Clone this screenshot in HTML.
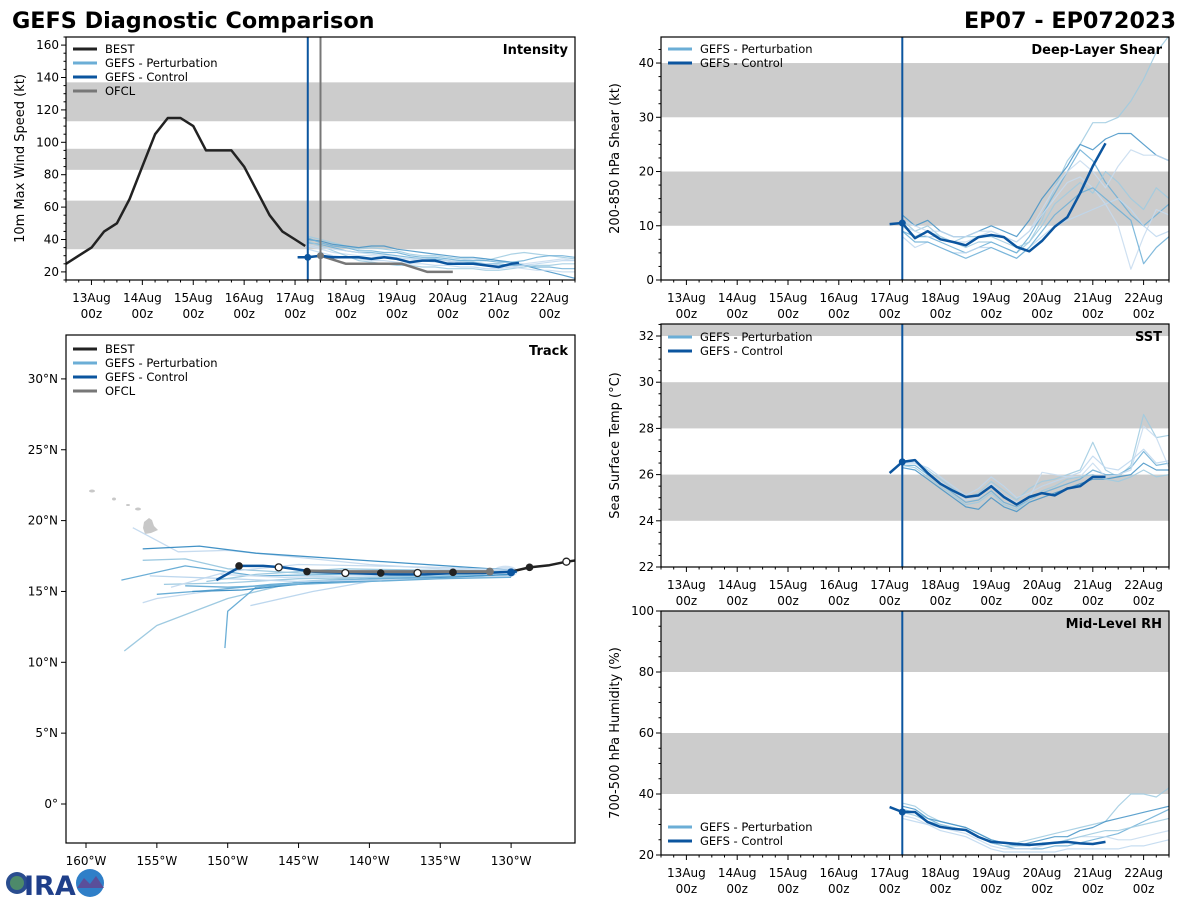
<!DOCTYPE html>
<html><head><meta charset="utf-8"><title>GEFS Diagnostic Comparison</title>
<style>
html,body{margin:0;padding:0;background:#fff;}
svg text{font-family:"DejaVu Sans","Liberation Sans",sans-serif;}
</style></head>
<body>
<svg id="fig" xmlns="http://www.w3.org/2000/svg" width="1200" height="900" viewBox="0 0 1200 900">
<rect width="1200" height="900" fill="#fff"/>
<text x="12" y="28" font-size="22.3" font-weight="bold" fill="#000">GEFS Diagnostic Comparison</text>
<text x="1176" y="28" font-size="22.3" font-weight="bold" fill="#000" text-anchor="end">EP07 - EP072023</text>
<g>
<circle cx="17" cy="883" r="11" fill="#2a4d8f"/><circle cx="17" cy="883" r="7" fill="#4d8a6a"/>
<text x="24" y="895" font-size="27" font-weight="bold" fill="#1f3f8a" font-family="Liberation Sans">IRA</text>
<circle cx="90" cy="883" r="14" fill="#2f7fc8"/><path d="M77,888 L84,878 L90,884 L96,876 L104,888 Z" fill="#5a4f9a"/>
</g>
<g id="root"></g>
</svg>
<script>
// ---------- DATA ----------
const dateLabels = ["13Aug","14Aug","15Aug","16Aug","17Aug","18Aug","19Aug","20Aug","21Aug","22Aug"];
const bestIntT = [-0.5,-0.25,0,0.25,0.5,0.75,1.0,1.25,1.5,1.75,2.0,2.25,2.5,2.75,3.0,3.25,3.5,3.75,4.0,4.2];
const bestIntV = [25,30,35,45,50,65,85,105,115,115,110,95,95,95,85,70,55,45,40,36];
const ctrlIntT = [4.05,4.25,4.5,4.75,5.0,5.25,5.5,5.75,6.0,6.25,6.5,6.75,7.0,7.25,7.5,7.75,8.0,8.25,8.4];
const ctrlIntV = [29,29,30,29,29,29,28,29,28,26,27,27,25,25,25,24,23,25,25.5];
const ofclIntT = [4.5,5.0,6.1,6.6,7.1];
const ofclIntV = [30,25,25,20,20];
const memT = [4.25,4.5,4.75,5.0,5.25,5.5,5.75,6.0,6.25,6.5,6.75,7.0,7.25,7.5,7.75,8.0,8.25,8.5,8.75,9.0,9.25,9.5];
const intM1 = [42,40,38,36,34,35,34,33,31,30,30,29,28,28,27,29,31,32,31,30,29,28];
const intM2 = [38,37,35,33,32,32,31,30,29,28,28,27,26,26,25,25,24,24,23,23,22,22];
const intM3 = [36,34,32,31,30,30,29,28,28,27,26,26,27,28,28,27,26,25,26,27,28,27];
const intM4 = [40,39,37,36,35,36,36,34,33,32,31,30,29,29,28,27,26,24,22,20,18,16];
const intM5 = [34,32,30,29,28,27,27,26,25,25,24,24,23,23,22,22,23,24,25,26,27,27];
const intM6 = [39,36,33,30,27,26,25,24,24,23,23,22,22,22,21,21,22,23,24,24,25,25];
const intM7 = [41,38,36,35,33,33,32,32,30,29,29,28,27,27,27,26,26,27,29,30,30,29];
const intM8 = [37,35,34,33,32,31,30,29,28,28,27,27,26,25,25,24,23,22,21,21,20,20];

const ctrlT = [4.0,4.25,4.5,4.75,5.0,5.25,5.5,5.75,6.0,6.25,6.5,6.75,7.0,7.25,7.5,7.75,8.0,8.25];
const shearCtrl = [10.3,10.5,7.7,9.0,7.5,7.0,6.4,7.9,8.3,7.9,6.1,5.3,7.2,9.8,11.6,16,21,25.2];
const shM1 = [11,9,10,8,7,6,7,7,6,5,7,11,17,22,25,29,29,30,33,37,42,45];
const shM2 = [9,8,8,7,6,5,6,7,6,5,8,12,16,20,24,22,18,15,12,10,12,14];
const shM3 = [10,9,8,8,7,7,8,9,8,7,9,12,15,18,19,17,14,10,2,8,13,12];
const shM4 = [12,10,11,9,8,8,9,10,9,8,11,15,18,21,25,24,26,27,27,25,23,22];
const shM5 = [8,6,7,6,5,5,6,6,5,4,6,8,10,11,12,13,14,15,13,10,8,9];
const shM6 = [10,8,9,8,7,8,8,8,7,6,7,10,14,16,18,16,20,18,15,13,17,15];
const shM7 = [9,7,7,6,5,4,5,6,5,4,6,9,12,14,16,17,15,13,11,3,6,8];
const shM8 = [11,10,9,9,8,8,9,9,8,7,9,13,17,20,22,20,17,21,24,23,23,22];

const sstCtrl = [26.07,26.55,26.63,26.07,25.6,25.3,25.03,25.1,25.5,25.03,24.7,25.03,25.2,25.1,25.4,25.5,25.9,25.9];
const sstM1 = [26.5,26.6,26.2,25.8,25.4,25.0,25.2,25.7,25.3,24.9,25.4,25.7,25.8,26.0,26.2,27.4,26.2,25.9,26.4,28.6,27.6,27.7];
const sstM2 = [26.4,26.4,26.0,25.6,25.2,24.8,24.9,25.3,24.8,24.6,24.9,25.2,25.4,25.6,25.8,26.2,26.0,26.0,26.3,27.0,26.4,26.5];
const sstM3 = [26.5,26.5,26.1,25.7,25.3,24.9,25.0,25.6,25.1,24.8,25.0,26.1,26.0,25.9,25.9,26.5,25.9,26.0,26.2,28.1,27.6,26.3];
const sstM4 = [26.3,26.2,25.8,25.4,25.0,24.6,24.5,25.0,24.6,24.4,24.8,25.0,25.2,25.4,25.6,25.8,25.8,25.9,26.0,26.5,26.2,26.2];
const sstM5 = [26.6,26.5,26.3,25.9,25.5,25.1,25.4,25.9,25.5,25.0,25.2,25.5,25.7,25.9,26.1,26.8,26.3,26.2,26.6,27.1,26.5,26.6];
const sstM6 = [26.4,26.3,25.9,25.5,25.1,24.7,24.8,25.2,24.7,24.5,24.9,25.3,25.5,25.8,25.9,26.0,25.8,25.7,25.9,26.2,25.9,26.0];

const rhCtrl = [35.7,34.1,34.1,30.8,29.2,28.6,28.2,25.9,24.3,24.0,23.6,23.3,23.6,24.0,24.3,23.8,23.6,24.3];
const rhM1 = [37,36,33,31,30,29,27,25,24,24,25,26,27,28,29,30,31,36,40,40,39,42];
const rhM2 = [35,34,32,30,29,28,26,24,23,22,22,22,23,23,24,25,26,27,29,31,33,35];
const rhM3 = [33,32,30,29,28,27,25,23,22,22,22,23,24,25,26,26,26,25,25,26,27,28];
const rhM4 = [36,35,32,31,30,29,27,25,24,23,24,25,26,26,28,29,31,32,33,34,35,36];
const rhM5 = [32,31,30,28,27,26,24,22,21,21,21,21,21,22,22,22,22,22,23,23,24,25];
const rhM6 = [34,33,31,30,29,28,26,24,23,23,23,24,24,25,26,27,28,28,29,30,31,32];

const bestLon = [125.4,126.1,127.3,128.7,130.0];
const bestLat = [17.2,17.1,16.85,16.7,16.4];
const ctrlLon = [129.6,132,134,136.1,138.5,141.4,143,144,146.1,147.5,149,150.8];
const ctrlLat = [16.4,16.3,16.3,16.2,16.2,16.3,16.35,16.4,16.7,16.8,16.8,15.8];
const ofclLon = [131.5,134.1,136.6,139.2,141.7,144.4];
const ofclLat = [16.4,16.4,16.4,16.4,16.4,16.45];
const trkLons = [
 [130,135,140,145,150,155,157.3],[130,135,140,145,148,150,150.2],[130,135,140,145,150,153.5,156.7],
 [130,136,142,148,152,156],[130,135,140,144,148.4],[130,135,140,145,150,154.5],
 [130,136,142,148,153,157.5],[130,135,140,145,150,155,156],[130,135,140,145,150,153,156],
 [130,136,142,147,151,155],[130,135,140,145,150,154],[130,134,139,144,149,152.5],
 [130,135,140,145,150,155.5],[130,136,142,148,151.5],[130,135,140,145,150,153],[130,136,141,146,150.5]];
const trkLats = [
 [16.3,16.2,16.0,15.7,14.5,12.6,10.8],[16.3,16.1,15.9,15.6,15.3,13.6,11.0],[16.4,16.6,16.9,17.4,17.9,17.8,19.5],
 [16.5,16.9,17.3,17.7,18.2,18.0],[16.3,16.0,15.7,15.0,14.0],[16.2,16.1,16.0,15.9,15.6,15.5],
 [16.3,16.3,16.2,16.1,16.8,15.8],[16.3,16.0,15.8,15.6,15.2,14.5,14.2],[16.4,16.3,16.2,16.3,16.6,17.3,17.2],
 [16.2,16.0,15.8,15.5,15.1,14.8],[16.5,16.7,16.8,16.9,16.4,15.3],[16.2,16.0,15.8,15.6,15.1,15.0],
 [16.1,15.9,15.8,15.7,15.9,16.1],[16.4,16.5,16.6,16.2,15.7],[16.0,15.9,15.7,15.5,15.3,15.4],[16.4,16.2,16.1,16.0,16.2]];
const darkMarkLon = [149.2,144.4,139.2,134.1,128.7];
const darkMarkLat = [16.8,16.4,16.3,16.35,16.7];
const openMarkLon = [146.4,141.7,136.6,126.1];
const openMarkLat = [16.7,16.3,16.3,17.1];
const lonTicks = [160,155,150,145,140,135,130];
const latTicks = [0,5,10,15,20,25,30];

// ---------- DRAW ----------
const NS="http://www.w3.org/2000/svg";
const root=document.getElementById('root');
function el(tag,attrs,parent){const e=document.createElementNS(NS,tag);for(const k in attrs)e.setAttribute(k,attrs[k]);(parent||root).appendChild(e);return e;}
function txt(s,attrs,parent){const e=el('text',attrs,parent);e.textContent=s;return e;}
const memColors=['#9ecae1','#6baed6','#c6dbef','#4292c6','#bdd7ee','#9ecae1','#6baed6','#c6dbef'];
const CTRL='#0b559f';

function tsPanel(o){
  const g=el('g',{});
  
  
  const X=d=>o.x0+(d+0.5)/10*(o.x1-o.x0);
  const Y=v=>o.y1-(v-o.ymin)/(o.ymax-o.ymin)*(o.y1-o.y0);
  for(const b of o.bands){const r=el('rect',{x:o.x0,y:Y(Math.min(b[1],o.ymax)),width:o.x1-o.x0,height:Y(b[0])-Y(Math.min(b[1],o.ymax)),fill:'#cccccc'},g);
    }
  const clip='c'+o.name;const cp=el('clipPath',{id:clip},g);el('rect',{x:o.x0,y:o.y0,width:o.x1-o.x0,height:o.y1-o.y0},cp);
  const pg=el('g',{'clip-path':'url(#'+clip+')'},g);
  function line(ts,vs,attrs,name){const p=ts.map((t,i)=>X(t).toFixed(1)+','+Y(vs[i]).toFixed(1)).join(' ');const e=el('polyline',Object.assign({points:p,fill:'none','stroke-linejoin':'round'},attrs),pg);
    return e;}
  o.members.forEach((m,i)=>line(memT,m,{stroke:memColors[i%memColors.length],'stroke-width':1.2,opacity:0.85},'perturbation-member-'+(i+1)));
  for(const v of o.vlines){const e=el('line',{x1:X(v[0]),x2:X(v[0]),y1:o.y0,y2:o.y1,stroke:v[1],'stroke-width':2},pg);}
  if(o.best)line(o.best[0],o.best[1],{stroke:'#222','stroke-width':2.5},'best-line');
  if(o.ofcl)line(o.ofcl[0],o.ofcl[1],{stroke:'#777','stroke-width':2.5},'ofcl-line');
  line(o.ctrl[0],o.ctrl[1],{stroke:CTRL,'stroke-width':2.5},'control-line');
  const ci=o.ctrl[0].indexOf(4.25);
  const dot=el('circle',{cx:X(4.25),cy:Y(o.ctrl[1][ci]),r:3.5,fill:CTRL},pg);
  if(o.ofcl){const d2=el('circle',{cx:X(o.ofcl[0][0]),cy:Y(o.ofcl[1][0]),r:3.5,fill:'#777'},pg);}
  el('rect',{x:o.x0,y:o.y0,width:o.x1-o.x0,height:o.y1-o.y0,fill:'none',stroke:'#000','stroke-width':1.2},g);
  for(let h=-2;h<=38;h++){const d=h/4;if(d<-0.5||d>9.5)continue;const xx=X(d);const major=h%4===0;
    el('line',{x1:xx,x2:xx,y1:o.y1,y2:o.y1+(major?5:2.5),stroke:'#000','stroke-width':1},g);}
  dateLabels.forEach((s,i)=>{const t1=txt(s,{x:X(i),y:o.y1+22,'font-size':12,'text-anchor':'middle',fill:'#000'},g);
    const t2=txt('00z',{x:X(i),y:o.y1+38,'font-size':12,'text-anchor':'middle',fill:'#000'},g);});
  for(let v=Math.ceil(o.ymin/o.minor)*o.minor;v<=o.ymax+1e-9;v+=o.minor){const yy=Y(v);const major=Math.abs(v/o.major-Math.round(v/o.major))<1e-6;
    el('line',{x1:o.x0,x2:o.x0-(major?5:2.5),y1:yy,y2:yy,stroke:'#000','stroke-width':1},g);
    if(major){const t=txt(String(Math.round(v)),{x:o.x0-7,y:yy+4,'font-size':12,'text-anchor':'end',fill:'#000'},g);}}
  const yt=txt(o.ylabel,{x:0,y:0,'font-size':13,'text-anchor':'middle',fill:'#000',transform:`translate(${o.x0-42},${(o.y0+o.y1)/2}) rotate(-90)`},g);
  
  const pt=txt(o.title,{x:o.x1-7,y:o.y0+17,'font-size':13,'font-weight':'bold','text-anchor':'end',fill:'#000'},g);
  
  legend(g,o.x0,o.legY,o.legend);
}
function legend(g,x0,y,items){
  const lg=el('g',{},g);
  items.forEach((it,i)=>{const yy=y+i*14;el('line',{x1:x0+7,x2:x0+31,y1:yy,y2:yy,stroke:it[1],'stroke-width':3},lg);
    const t=txt(it[0],{x:x0+39,y:yy+4,'font-size':11.5,fill:'#000'},lg);});
}
const L4=[['BEST','#222'],['GEFS - Perturbation','#6baed6'],['GEFS - Control',CTRL],['OFCL','#777']];
const L2=[['GEFS - Perturbation','#6baed6'],['GEFS - Control',CTRL]];

tsPanel({name:'intensity',x0:66,x1:575,y0:37,y1:280,ymin:15,ymax:165,major:20,minor:5,bands:[[34,64],[83,96],[113,137]],
  members:[intM1,intM2,intM3,intM4,intM5,intM6,intM7,intM8],best:[bestIntT,bestIntV],ofcl:[ofclIntT,ofclIntV],ctrl:[ctrlIntT,ctrlIntV],
  vlines:[[4.25,CTRL],[4.5,'#777']],ylabel:'10m Max Wind Speed (kt)',title:'Intensity',legY:49,legend:L4});
tsPanel({name:'shear',x0:661,x1:1169,y0:37,y1:280,ymin:0,ymax:44.8,major:10,minor:2.5,bands:[[10,20],[30,40]],
  members:[shM1,shM2,shM3,shM4,shM5,shM6,shM7,shM8],ctrl:[ctrlT,shearCtrl],vlines:[[4.25,CTRL]],
  ylabel:'200-850 hPa Shear (kt)',title:'Deep-Layer Shear',legY:49,legend:L2});
tsPanel({name:'sst',x0:661,x1:1169,y0:324,y1:567,ymin:22,ymax:32.52,major:2,minor:0.5,bands:[[24,26],[28,30],[32,40]],
  members:[sstM1,sstM2,sstM3,sstM4,sstM5,sstM6],ctrl:[ctrlT,sstCtrl],vlines:[[4.25,CTRL]],
  ylabel:'Sea Surface Temp (°C)',title:'SST',legY:337,legend:L2});
tsPanel({name:'rh',x0:661,x1:1169,y0:611,y1:855,ymin:20,ymax:100,major:20,minor:5,bands:[[40,60],[80,100]],
  members:[rhM1,rhM2,rhM3,rhM4,rhM5,rhM6],ctrl:[ctrlT,rhCtrl],vlines:[[4.25,CTRL]],
  ylabel:'700-500 hPa Humidity (%)',title:'Mid-Level RH',legY:827,legend:L2});

(function(){
  const x0=66,x1=575,y0=335,y1=843;
  const g=el('g',{});
  const LX=w=>86+(160-w)*14.17; const LY=n=>804-n*14.17;
  const cp=el('clipPath',{id:'ctrk'},g);el('rect',{x:x0,y:y0,width:x1-x0,height:y1-y0},cp);
  const pg=el('g',{'clip-path':'url(#ctrk)'},g);
  const isl=el('g',{fill:'#c8c8c8'},pg);
  el('path',{d:'M144,522 L149,518 L152,520 L154,526 L158,530 L151,533 L145,534 L143,528 Z'},isl);
  el('ellipse',{cx:92,cy:491,rx:3,ry:1.5},isl);el('ellipse',{cx:114,cy:499,rx:2,ry:1.5},isl);
  el('ellipse',{cx:128,cy:505,rx:2,ry:1},isl);el('ellipse',{cx:138,cy:509,rx:3,ry:1.5},isl);
  function pl(lons,lats,attrs,name){const p=lons.map((w,i)=>LX(w).toFixed(1)+','+LY(lats[i]).toFixed(1)).join(' ');
    const e=el('polyline',Object.assign({points:p,fill:'none','stroke-linejoin':'round'},attrs),pg);}
  const blob=el('ellipse',{cx:LX(130.4),cy:LY(16.4),rx:12,ry:6,fill:'#c6dbef',opacity:0.8},pg);
  trkLons.forEach((ln,i)=>pl(ln,trkLats[i],{stroke:memColors[i%memColors.length],'stroke-width':1.3},'perturbation-track-'+(i+1)));
  pl(bestLon,bestLat,{stroke:'#222','stroke-width':2.5},'best-track');
  pl(ctrlLon,ctrlLat,{stroke:CTRL,'stroke-width':2.5},'control-track');
  pl(ofclLon,ofclLat,{stroke:'#777','stroke-width':3},'ofcl-track');
  darkMarkLon.forEach((w,i)=>{const c=el('circle',{cx:LX(w),cy:LY(darkMarkLat[i]),r:3.8,fill:'#222'},pg);});
  openMarkLon.forEach((w,i)=>{const c=el('circle',{cx:LX(w),cy:LY(openMarkLat[i]),r:3.5,fill:'#fff',stroke:'#222','stroke-width':1.3},pg);});
  const gd=el('circle',{cx:LX(ofclLon[0]),cy:LY(ofclLat[0]),r:4,fill:'#777'},pg);
  const bd=el('circle',{cx:LX(130),cy:LY(16.35),r:4,fill:CTRL},pg);
  el('rect',{x:x0,y:y0,width:x1-x0,height:y1-y0,fill:'none',stroke:'#000','stroke-width':1.2},g);
  lonTicks.forEach(w=>{const xx=LX(w);el('line',{x1:xx,x2:xx,y1:y1,y2:y1+5,stroke:'#000'},g);
    const t=txt(w+'°W',{x:xx,y:y1+22,'font-size':12,'text-anchor':'middle',fill:'#000'},g);});
  latTicks.forEach(n=>{const yy=LY(n);el('line',{x1:x0,x2:x0-5,y1:yy,y2:yy,stroke:'#000'},g);
    const t=txt(n===0?'0°':n+'°N',{x:x0-8,y:yy+4,'font-size':12,'text-anchor':'end',fill:'#000'},g);});
  const pt=txt('Track',{x:x1-7,y:y0+20,'font-size':13,'font-weight':'bold','text-anchor':'end',fill:'#000'},g);
  
  legend(g,x0,y0+14,L4);
})();
</script>
</body></html>
